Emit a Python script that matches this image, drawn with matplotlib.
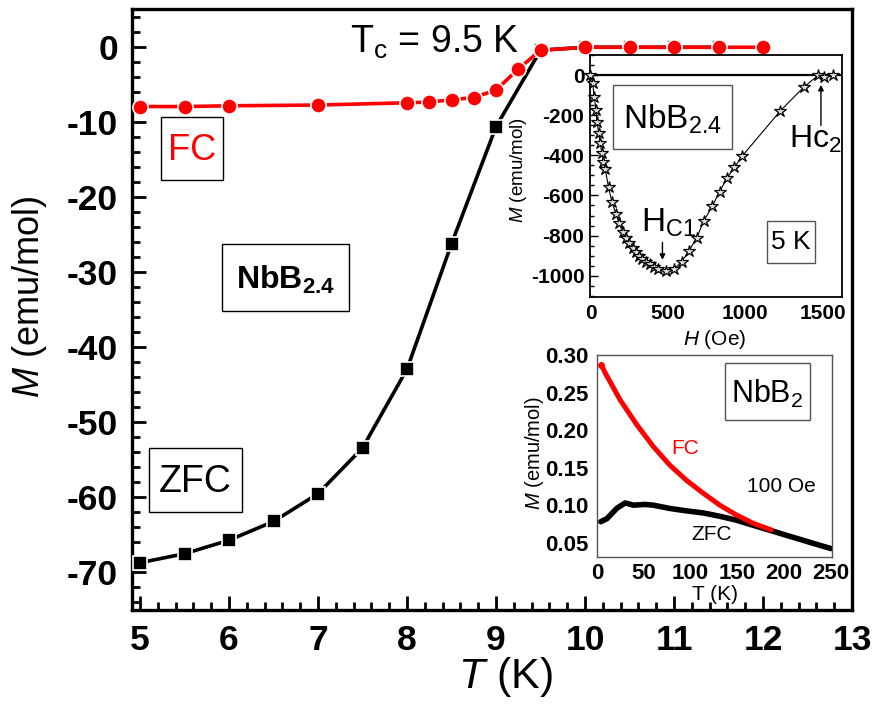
import matplotlib
matplotlib.use('Agg')
import matplotlib.pyplot as plt
from matplotlib.patches import Rectangle
from matplotlib.ticker import MultipleLocator, FormatStrFormatter

plt.rcParams['font.family'] = ['Liberation Sans', 'DejaVu Sans']
plt.rcParams['mathtext.fontset'] = 'custom'
plt.rcParams['mathtext.rm'] = 'Liberation Sans'
plt.rcParams['mathtext.it'] = 'Liberation Sans:italic'
plt.rcParams['mathtext.bf'] = 'Liberation Sans:bold'
plt.rcParams['axes.unicode_minus'] = False

# ---------------- data ----------------
# main panel: NbB2.4, M vs T
T_fc = [5, 5.5, 6, 7, 8, 8.25, 8.5, 8.75, 9, 9.25, 9.5, 10, 10.5, 11, 11.5, 12]
M_fc = [-7.9, -7.9, -7.8, -7.7, -7.4, -7.3, -7.0, -6.7, -5.7, -2.9, -0.4, 0, 0, 0, 0, 0]
T_zfc = [5, 5.5, 6, 6.5, 7, 7.5, 8, 8.5, 9, 9.5, 10, 10.5, 11, 11.5]
M_zfc = [-68.7, -67.5, -65.7, -63.2, -59.5, -53.4, -42.9, -26.2, -10.6, -0.4, 0, 0, 0, 0]
main_xticks = [5, 6, 7, 8, 9, 10, 11, 12, 13]
main_yticks = [0, -10, -20, -30, -40, -50, -60, -70]

# inset 1: M vs H at 5 K
H_oe = [0, 14, 25, 35, 42, 53, 63, 74, 83, 95, 117, 138, 164, 186, 207, 229, 250, 272,
        293, 314, 336, 357, 383, 411, 437, 486, 540, 589, 636, 686, 733, 787, 834, 883,
        930, 980, 1227, 1377, 1473, 1510, 1570]
M_h = [0, -42, -108, -174, -232, -287, -340, -390, -432, -468, -560, -631, -692, -739,
       -781, -814, -839, -864, -883, -902, -919, -930, -943, -955, -967, -977, -967, -930,
       -877, -811, -726, -653, -581, -512, -460, -404, -178, -61, 0, -12, 0]
in1_xticks = [0, 500, 1000, 1500]
in1_yticks = [0, -200, -400, -600, -800, -1000]

# inset 2: NbB2, M vs T at 100 Oe
T_fc2 = [4.6, 8.8, 24.8, 42.6, 60.2, 78, 95.7, 113.4, 131.2, 148.9, 166.6, 186.2]
M_fc2 = [0.287, 0.276, 0.240, 0.207, 0.178, 0.153, 0.133, 0.116, 0.100, 0.087, 0.076, 0.067]
T_zfc2 = [4, 10.6, 21.3, 30.1, 39, 51.4, 60.2, 78, 95.7, 113.4, 131, 149, 166.6, 184.4,
          202, 220, 237.6, 250]
M_zfc2 = [0.078, 0.082, 0.096, 0.103, 0.100, 0.101, 0.100, 0.0956, 0.0924, 0.0897,
          0.0853, 0.080, 0.0733, 0.0667, 0.060, 0.0533, 0.0467, 0.0422]
in2_xticks = [0, 50, 100, 150, 200, 250]
in2_yticks = [0.05, 0.10, 0.15, 0.20, 0.25, 0.30]

RED = '#ff0000'

# ---------------- layout helpers ----------------
W, H = 878, 706
fig = plt.figure(figsize=(W / 100, H / 100), dpi=100)


def fr(x0, y0, x1, y1):
    return [x0 / W, 1 - y1 / H, (x1 - x0) / W, (y1 - y0) / H]


def boxed(x0, y0, x1, y1, text, color='black', ec='black', lw=1.0, dy=0, **kw):
    fig.patches.append(Rectangle((x0 / W, 1 - y1 / H), (x1 - x0) / W, (y1 - y0) / H,
                                 transform=fig.transFigure, fill=True, fc='white',
                                 ec=ec, lw=lw, zorder=5))
    fig.text((x0 + x1) / 2 / W, 1 - ((y0 + y1) / 2 + dy) / H, text, color=color,
             ha='center', va='center', zorder=6, **kw)


# ---------------- main axes ----------------
ax = fig.add_axes(fr(132, 9, 852, 610))
ax.plot(T_zfc, M_zfc, color='black', lw=2.6, marker='s', ms=10, mec='white', mew=1.2,
        mfc='black', zorder=3, clip_on=False)
ax.plot(T_fc, M_fc, color=RED, lw=2.6, marker='o', ms=11, mec='white', mew=1.2,
        mfc=RED, zorder=4, clip_on=False)
ax.set_xlim(4.91, 13.0)
ax.set_ylim(-75, 5.1)
ax.set_xticks(main_xticks)
ax.set_yticks(main_yticks)
ax.xaxis.set_minor_locator(MultipleLocator(0.2))
ax.yaxis.set_minor_locator(MultipleLocator(2))
ax.tick_params(which='both', direction='in', top=False, right=False, width=2.0)
ax.tick_params(which='major', length=10, labelsize=25.5, pad=10)
ax.tick_params(which='minor', length=5.5)
for lab in ax.get_xticklabels() + ax.get_yticklabels():
    lab.set_fontweight('bold')
for s in ax.spines.values():
    s.set_linewidth(2.4)
ax.set_xlabel(r'$\it{T}$ (K)', fontsize=31)
ax.xaxis.label.set_va('center')
ax.xaxis.set_label_coords((505 - 132) / 720, -(677 - 610) / 601)
ax.set_ylabel(r'$\it{M}$ (emu/mol)', fontsize=26)
ax.yaxis.label.set_va('center')
ax.yaxis.set_label_coords((30 - 132) / 720, (610 - 297) / 601)

fig.text(435 / W, 1 - 53 / H, r'T$_{\rm c}$ = 9.5 K', fontsize=27, ha='center',
         va='baseline')
boxed(161, 117, 223, 180, 'FC', color=RED, fontsize=26, dy=2)
boxed(222, 244, 349, 311, r'$\mathbf{NbB_{2.4}}$', fontsize=23, dy=2)
boxed(149, 448, 242, 512, 'ZFC', fontsize=27, dy=2)

# ---------------- inset 1 ----------------
a1 = fig.add_axes(fr(590, 55, 842, 297))
a1.set_zorder(10)
a1.axhline(0, color='black', lw=1.6, zorder=1)
a1.plot(H_oe, M_h, color='black', lw=0.8, marker='*', ms=9, mfc='#dddddd', mec='black',
        mew=0.9, zorder=3, clip_on=False)
a1.set_xlim(-3, 1625)
a1.set_ylim(-1106, 100)
a1.set_xticks(in1_xticks)
a1.set_yticks(in1_yticks)
a1.yaxis.set_minor_locator(MultipleLocator(50))
a1.tick_params(which='both', direction='in', top=False, right=False, bottom=False,
               width=1.0)
a1.tick_params(which='major', length=6, labelsize=15, pad=4)
a1.tick_params(which='minor', length=3)
a1.tick_params(axis='x', pad=5)
for lab in a1.get_xticklabels() + a1.get_yticklabels():
    lab.set_fontweight('bold')
for s in a1.spines.values():
    s.set_linewidth(1.3)
a1.set_xlabel(r'$\it{H}$ (Oe)', fontsize=15)
a1.xaxis.label.set_va('center')
a1.xaxis.set_label_coords((715 - 590) / 252, -(340 - 297) / 242)
a1.set_ylabel(r'$\it{M}$ (emu/mol)', fontsize=13.5)
a1.yaxis.label.set_va('center')
a1.yaxis.set_label_coords((519 - 590) / 252, (297 - 170) / 242)

a1.annotate('', xy=(465, -935), xytext=(465, -820),
            arrowprops=dict(arrowstyle='-|>', color='black', lw=1.0, mutation_scale=8))
a1.text(505, -735, r'H$_{\rm C1}$', fontsize=24, ha='center', va='center')
a1.annotate('', xy=(1489, -35), xytext=(1489, -265),
            arrowprops=dict(arrowstyle='-|>', color='black', lw=1.0, mutation_scale=8))
a1.text(1455, -320, r'Hc$_{2}$', fontsize=23, ha='center', va='center')


def inbox(axx, x0, y0, x1, y1, text, ec='#555555', dy=0, **kw):
    axx.add_patch(Rectangle((x0, y0), x1 - x0, y1 - y0, transform=axx.transAxes,
                            fc='white', ec=ec, lw=1.0, zorder=4))
    axx.text((x0 + x1) / 2, (y0 + y1) / 2 + dy, text, transform=axx.transAxes,
             ha='center', va='center', zorder=5, **kw)


inbox(a1, (613 - 590) / 252, (297 - 149) / 242, (732 - 590) / 252, (297 - 85) / 242,
      r'NbB$_{2.4}$', fontsize=24, dy=-0.01)
inbox(a1, (767 - 590) / 252, (297 - 263) / 242, (815 - 590) / 252, (297 - 221) / 242,
      '5 K', fontsize=19)

# ---------------- inset 2 ----------------
a2 = fig.add_axes(fr(597, 355, 832, 557))
a2.set_zorder(10)
a2.plot(T_zfc2, M_zfc2, color='black', lw=4, solid_capstyle='round', zorder=2)
a2.plot(T_fc2, M_fc2, color=RED, lw=3.6, solid_capstyle='round', zorder=3)
a2.plot(T_fc2[:1], M_fc2[:1], 'o', color=RED, ms=4, zorder=3)
a2.set_xlim(0, 251)
a2.set_ylim(0.031, 0.30)
a2.set_xticks(in2_xticks)
a2.set_yticks(in2_yticks)
a2.yaxis.set_major_formatter(FormatStrFormatter('%.2f'))
a2.tick_params(which='both', length=0, labelsize=16)
a2.tick_params(axis='y', pad=6)
a2.tick_params(axis='x', pad=4)
for lab in a2.get_xticklabels() + a2.get_yticklabels():
    lab.set_fontweight('bold')
for s in a2.spines.values():
    s.set_linewidth(1.0)
    s.set_color('#555555')
a2.set_xlabel('T (K)', fontsize=15)
a2.xaxis.label.set_va('center')
a2.xaxis.set_label_coords((715 - 597) / 235, -(594 - 557) / 202)
a2.set_ylabel(r'$\it{M}$ (emu/mol)', fontsize=14.5)
a2.yaxis.label.set_va('center')
a2.yaxis.set_label_coords((535 - 597) / 235, (557 - 453) / 202)
inbox(a2, (725 - 597) / 235, (557 - 420) / 202, (810 - 597) / 235, (557 - 363) / 202,
      r'NbB$_{2}$', fontsize=22, dy=-0.01)
a2.text((685 - 597) / 235, (557 - 448) / 202, 'FC', color=RED, fontsize=15,
        transform=a2.transAxes, ha='center', va='center')
a2.text((781 - 597) / 235, (557 - 487) / 202, '100 Oe', fontsize=15,
        transform=a2.transAxes, ha='center', va='center')
a2.text((712 - 597) / 235, (557 - 534) / 202, 'ZFC', fontsize=15,
        transform=a2.transAxes, ha='center', va='center')

fig.savefig('out.png', dpi=100)
